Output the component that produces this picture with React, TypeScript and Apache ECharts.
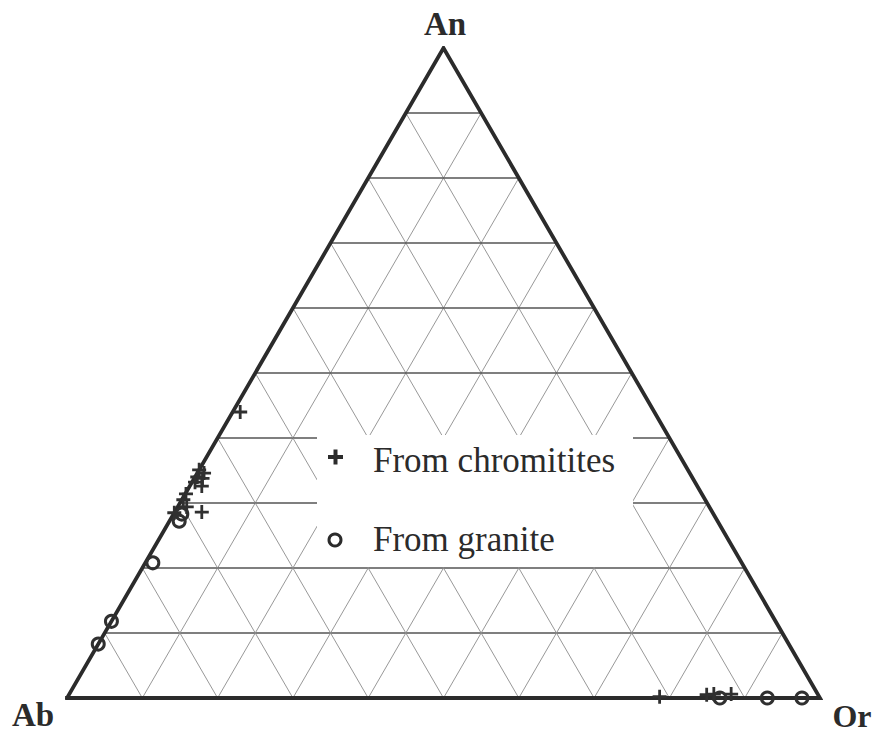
import React, { useEffect, useRef } from "react";
import * as echarts from "echarts";

// Ternary feldspar diagram: Ab (bottom-left), Or (bottom-right), An (top).
const vertexLabels = ["An", "Ab", "Or"];
const seriesNames = ["From chromitites", "From granite"];

// Compositions in percent as [An, Or, Ab]
const chromititePoints: number[][] = [
  [44.0, 1.0, 55.0],
  [35.1, 0.0, 64.9],
  [34.6, 0.9, 64.5],
  [34.0, 0.3, 65.7],
  [33.8, 1.1, 65.1],
  [33.2, 0.4, 66.4],
  [32.6, 1.6, 65.8],
  [31.4, 0.1, 68.5],
  [30.5, 0.2, 69.3],
  [29.4, 1.2, 69.4],
  [28.5, 0.0, 71.5],
  [28.6, 3.6, 67.8],
  [0.2, 78.6, 21.2],
  [0.5, 84.7, 14.8],
  [0.6, 85.6, 13.8],
  [0.6, 87.9, 11.5],
];

const granitePoints: number[][] = [
  [28.3, 1.1, 70.6],
  [27.2, 1.3, 71.5],
  [20.8, 1.0, 78.2],
  [11.8, 0.0, 88.2],
  [8.3, 0.0, 91.7],
  [0.0, 86.7, 13.3],
  [0.0, 93.0, 7.0],
  [0.0, 97.6, 2.4],
];

// Grid lines every 10 %
const gridSteps = [10, 20, 30, 40, 50, 60, 70, 80, 90];

// Triangle corners in ternary terms [An, Or, Ab]
const corners: number[][] = [
  [0, 0, 100],
  [0, 100, 0],
  [100, 0, 0],
  [0, 0, 100],
];

// Ternary -> cartesian (x along the base, y = An fraction)
function toXY(p: number[]): number[] {
  const an = p[0] / 100;
  const or = p[1] / 100;
  return [or + an / 2, an];
}

function buildGridSegments() {
  const segs: number[][] = [];
  gridSteps.forEach((k) => {
    const f = k / 100;
    // constant An
    segs.push([f / 2, f, 1 - f / 2, f, 1]);
    // constant Or
    segs.push([f, 0, (1 + f) / 2, 1 - f, 0]);
    // constant Ab
    segs.push([1 - f, 0, (1 - f) / 2, 1 - f, 0]);
  });
  return segs;
}

const plusPath = "path://M4,0h2v4h4v2h-4v4h-2v-4h-4v-2h4z";

export default function App() {
  const ref = useRef<HTMLDivElement>(null);

  useEffect(() => {
    if (!ref.current) return;
    const chart = echarts.init(ref.current, undefined, { renderer: "svg" });
    const ink = "#2b2b2b";
    const serif = '"Liberation Serif", "Times New Roman", serif';

    chart.setOption({
      animation: false,
      backgroundColor: "#ffffff",
      grid: { left: 67, right: 58, top: 48, bottom: 35, containLabel: false },
      xAxis: { type: "value", min: 0, max: 1, show: false },
      yAxis: { type: "value", min: 0, max: 1, show: false },
      series: [
        {
          type: "custom",
          name: "grid",
          z: 1,
          silent: true,
          encode: { x: [0, 2], y: [1, 3] },
          data: buildGridSegments(),
          renderItem: (params: any, api: any) => {
            const p1 = api.coord([api.value(0), api.value(1)]);
            const p2 = api.coord([api.value(2), api.value(3)]);
            const horizontal = api.value(4) === 1;
            return {
              type: "line",
              shape: { x1: p1[0], y1: p1[1], x2: p2[0], y2: p2[1] },
              style: {
                stroke: horizontal ? "#555555" : "#8c8c8c",
                lineWidth: horizontal ? 1.4 : 0.9,
              },
            };
          },
        },
        {
          type: "line",
          name: "outline",
          z: 2,
          silent: true,
          symbol: "none",
          data: corners.map(toXY),
          lineStyle: { color: ink, width: 3.8, join: "miter", cap: "square" },
        },
        {
          type: "scatter",
          name: seriesNames[0],
          z: 5,
          clip: false,
          symbol: plusPath,
          symbolSize: 14,
          itemStyle: { color: "#303030", opacity: 1 },
          data: chromititePoints.map(toXY),
        },
        {
          type: "scatter",
          name: seriesNames[1],
          z: 5,
          clip: false,
          symbol: "circle",
          symbolSize: 12,
          itemStyle: {
            color: "rgba(255,255,255,0)",
            borderColor: "#303030",
            borderWidth: 3,
            opacity: 1,
          },
          data: granitePoints.map(toXY),
        },
      ],
      graphic: [
        {
          type: "rect",
          z: 10,
          shape: { x: 317, y: 435, width: 316, height: 132 },
          style: { fill: "#ffffff" },
        },
        {
          type: "rect",
          z: 11,
          shape: { x: 328, y: 455, width: 15, height: 4 },
          style: { fill: ink },
        },
        {
          type: "rect",
          z: 11,
          shape: { x: 333.5, y: 449.5, width: 4, height: 15 },
          style: { fill: ink },
        },
        {
          type: "circle",
          z: 11,
          shape: { cx: 335, cy: 540, r: 6 },
          style: { fill: "none", stroke: ink, lineWidth: 3 },
        },
        {
          type: "text",
          z: 11,
          style: {
            text: seriesNames[0],
            x: 373,
            y: 460,
            font: `35px ${serif}`,
            fill: ink,
            textAlign: "left",
            textVerticalAlign: "middle",
          },
        },
        {
          type: "text",
          z: 11,
          style: {
            text: seriesNames[1],
            x: 373,
            y: 539,
            font: `35px ${serif}`,
            fill: ink,
            textAlign: "left",
            textVerticalAlign: "middle",
          },
        },
        {
          type: "text",
          z: 11,
          style: {
            text: vertexLabels[0],
            x: 445,
            y: 24,
            font: `bold 33px ${serif}`,
            fill: ink,
            textAlign: "center",
            textVerticalAlign: "middle",
          },
        },
        {
          type: "text",
          z: 11,
          style: {
            text: vertexLabels[1],
            x: 33,
            y: 715,
            font: `bold 33px ${serif}`,
            fill: ink,
            textAlign: "center",
            textVerticalAlign: "middle",
          },
        },
        {
          type: "text",
          z: 11,
          style: {
            text: vertexLabels[2],
            x: 852,
            y: 716,
            font: `bold 32px ${serif}`,
            fill: ink,
            textAlign: "center",
            textVerticalAlign: "middle",
          },
        },
      ],
    });

    return () => chart.dispose();
  }, []);

  return (
    <div
      ref={ref}
      style={{ position: "absolute", left: 0, top: 0, width: 878, height: 733 }}
    />
  );
}
